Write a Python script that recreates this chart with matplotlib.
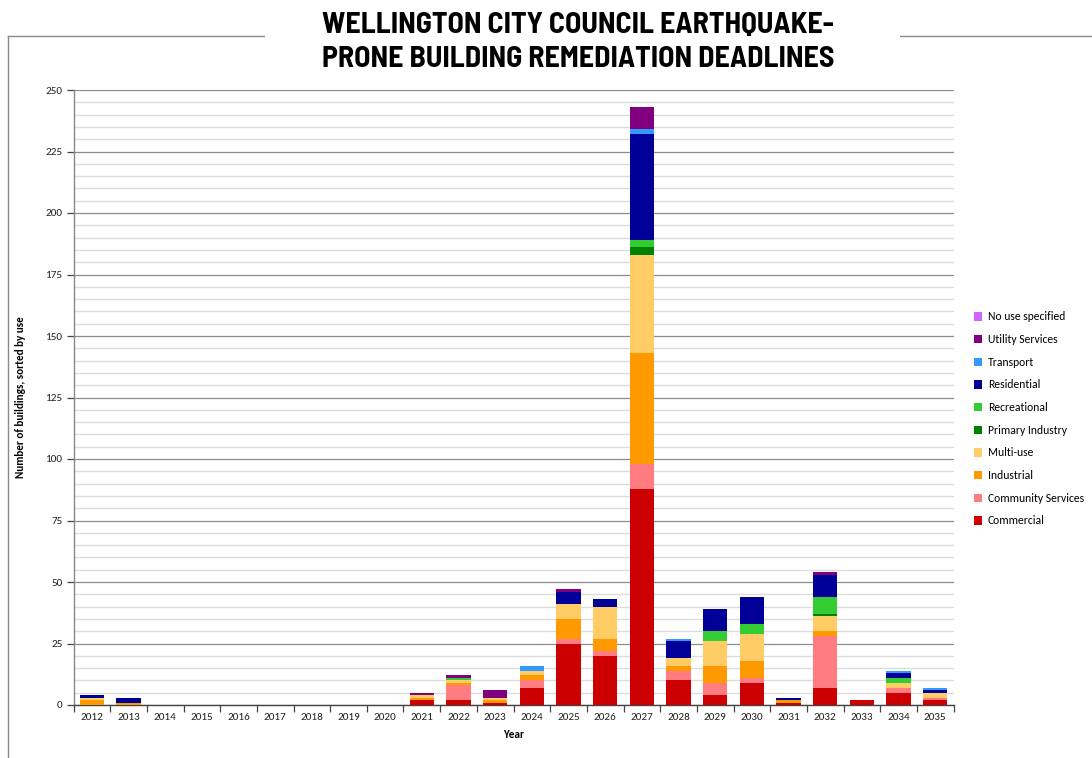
import numpy as np
import matplotlib
matplotlib.use("Agg")
import matplotlib.pyplot as plt
from matplotlib.patches import Patch
from matplotlib.lines import Line2D
from matplotlib.ticker import MultipleLocator

# years and building counts by use
years = [str(y) for y in range(2012, 2036)]
commercial = [0, 0, 0, 0, 0, 0, 0, 0, 0, 2, 2, 1, 7, 25, 20, 88, 10, 4, 9, 1, 7, 2, 5, 2]
community = [0, 0, 0, 0, 0, 0, 0, 0, 0, 0, 6, 0, 3, 2, 2, 10, 4, 5, 2, 0, 21, 0, 2, 1]
industrial = [2, 1, 0, 0, 0, 0, 0, 0, 0, 1, 1, 1, 2, 8, 5, 45, 2, 7, 7, 1, 2, 0, 0, 0]
multi_use = [1, 0, 0, 0, 0, 0, 0, 0, 0, 1, 1, 1, 2, 6, 13, 40, 3, 10, 11, 0, 6, 0, 2, 2]
primary = [0, 0, 0, 0, 0, 0, 0, 0, 0, 0, 0, 0, 0, 0, 0, 3, 0, 0, 0, 0, 1, 0, 0, 0]
recreational = [0, 0, 0, 0, 0, 0, 0, 0, 0, 0, 1, 0, 0, 0, 0, 3, 0, 4, 4, 0, 7, 0, 2, 0]
residential = [1, 2, 0, 0, 0, 0, 0, 0, 0, 0, 0, 0, 0, 5, 3, 43, 7, 9, 11, 1, 9, 0, 2, 1]
transport = [0, 0, 0, 0, 0, 0, 0, 0, 0, 0, 0, 0, 2, 0, 0, 2, 1, 0, 0, 0, 0, 0, 1, 1]
utility = [0, 0, 0, 0, 0, 0, 0, 0, 0, 1, 1, 3, 0, 1, 0, 9, 0, 0, 0, 0, 1, 0, 0, 0]
no_use = [0] * 24

# stacked bottom to top
series = [
    ("Commercial", commercial, "#CC0000"),
    ("Community Services", community, "#FF7C80"),
    ("Industrial", industrial, "#FF9900"),
    ("Multi-use", multi_use, "#FFCC66"),
    ("Primary Industry", primary, "#008000"),
    ("Recreational", recreational, "#33CC33"),
    ("Residential", residential, "#000099"),
    ("Transport", transport, "#3399FF"),
    ("Utility Services", utility, "#800080"),
    ("No use specified", no_use, "#CC66FF"),
]

small_font = ["Carlito", "Lato", "DejaVu Sans"]

fig = plt.figure(figsize=(10.92, 7.58), dpi=100)
ax = fig.add_axes([73.5 / 1092, 1 - 705 / 758, 880 / 1092, 615 / 758])

x = np.arange(len(years))
bottom = np.zeros(len(years))
for name, vals, col in series:
    vals = np.array(vals, dtype=float)
    ax.bar(x, vals, width=0.67, bottom=bottom, color=col, edgecolor="none", zorder=3)
    bottom += vals

ax.set_xlim(-0.5, len(years) - 0.5)
ax.set_ylim(0, 250)

# gridlines: light every 5, darker every 25
ax.yaxis.set_major_locator(MultipleLocator(25))
ax.yaxis.set_minor_locator(MultipleLocator(5))
ax.grid(axis="y", which="minor", color="#dcdcdc", linewidth=1.0, zorder=0)
ax.grid(axis="y", which="major", color="#8c8c8c", linewidth=0.9, zorder=1)

ax.set_xticks(x)
ax.set_xticklabels(years)
ax.set_xticks(np.arange(-0.5, len(years)), minor=True)
ax.tick_params(axis="x", which="major", length=0, pad=6, labelsize=8, labelcolor="#222222")
ax.tick_params(axis="x", which="minor", length=5, direction="out", color="#444444", width=0.9)
ax.tick_params(axis="y", which="major", length=5, direction="out", color="#444444", width=0.9,
               labelsize=8, labelcolor="#222222", pad=3)
ax.tick_params(axis="y", which="minor", length=0)
for lab in ax.get_xticklabels() + ax.get_yticklabels():
    lab.set_family(small_font)

for s in ["top", "right"]:
    ax.spines[s].set_visible(False)
ax.spines["left"].set_color("#888888")
ax.spines["bottom"].set_color("#444444")
ax.spines["left"].set_linewidth(1.0)
ax.spines["bottom"].set_linewidth(1.0)

ax.set_xlabel("Year", fontsize=8, fontweight="bold", family=small_font, labelpad=5)
ax.set_ylabel("Number of buildings, sorted by use", fontsize=8, fontweight="bold",
              family=small_font, labelpad=14)

# legend, top entry is the last series
handles = [Patch(facecolor=c, edgecolor="none") for _, _, c in series[::-1]]
labels = [n for n, _, _ in series[::-1]]
fig.legend(handles, labels, loc="center left", bbox_to_anchor=(968 / 1092, 1 - 419 / 758),
           frameon=False, handlelength=0.7, handleheight=0.7, handletextpad=0.5,
           labelspacing=1.0, borderpad=0, prop={"family": small_font, "size": 8.4})

# outer chart frame, partly hidden behind the title
frame_col = "#8a8a8a"
fig.add_artist(Line2D([8 / 1092, 1.0], [1 - 36 / 758, 1 - 36 / 758], color=frame_col, lw=1.0))
fig.add_artist(Line2D([8 / 1092, 8 / 1092], [1 - 36 / 758, 0.0], color=frame_col, lw=1.0))
fig.add_artist(plt.Rectangle((265 / 1092, 1 - 45 / 758), 635 / 1092, 20 / 758,
                             facecolor="white", edgecolor="none", zorder=5))

fig.text(578 / 1092, 1 - 42.5 / 758,
         "WELLINGTON CITY COUNCIL EARTHQUAKE-\nPRONE BUILDING REMEDIATION DEADLINES",
         ha="center", va="center", fontsize=21.5, fontweight="bold", linespacing=1.33,
         family=["Barlow Semi Condensed", "DejaVu Sans"], zorder=6)

fig.savefig("out.png", dpi=100)
